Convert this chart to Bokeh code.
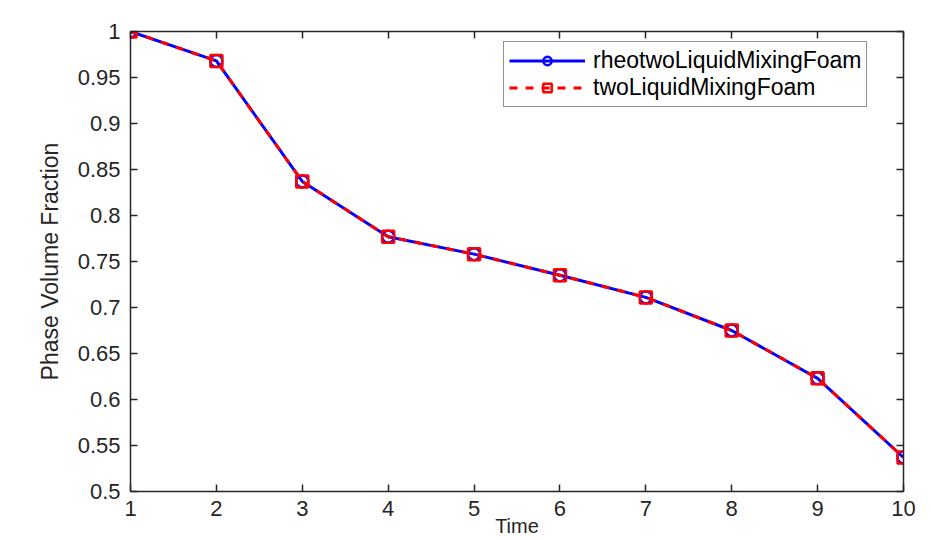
from bokeh.plotting import figure
from bokeh.models import LinearAxis, Range1d, Legend, LegendItem, FixedTicker
from bokeh.embed import file_html
from bokeh.resources import INLINE

time = [1, 2, 3, 4, 5, 6, 7, 8, 9, 10]
rheo = [1.0, 0.968, 0.837, 0.777, 0.758, 0.735, 0.711, 0.675, 0.623, 0.537]
two = [1.0, 0.968, 0.837, 0.777, 0.758, 0.735, 0.711, 0.675, 0.623, 0.537]
yticks = [0.5, 0.55, 0.6, 0.65, 0.7, 0.75, 0.8, 0.85, 0.9, 0.95, 1.0]
ytick_labels = {0.5: "0.5", 0.55: "0.55", 0.6: "0.6", 0.65: "0.65", 0.7: "0.7",
                0.75: "0.75", 0.8: "0.8", 0.85: "0.85", 0.9: "0.9", 0.95: "0.95", 1.0: "1"}

FONT = "Liberation Sans"
AX = "#262626"

p = figure(width=925, height=540, output_backend="svg", toolbar_location=None,
           x_range=Range1d(1, 10), y_range=Range1d(0.5, 1.0),
           min_border_left=130, min_border_right=22, min_border_top=31, min_border_bottom=49)
p.outline_line_color = None
p.grid.visible = False
p.background_fill_color = "white"

for ax in [p.xaxis[0], p.yaxis[0]]:
    ax.axis_line_color = AX
    ax.axis_line_width = 1.5
    ax.major_tick_line_color = AX
    ax.major_tick_line_width = 1.5
    ax.major_tick_in = 7
    ax.major_tick_out = 0
    ax.minor_tick_line_color = None
    ax.major_label_text_font = FONT
    ax.major_label_text_font_size = "22px"
    ax.major_label_text_color = AX
    ax.axis_label_text_font = FONT
    ax.axis_label_text_font_style = "normal"
    ax.axis_label_text_font_size = "23px"
    ax.axis_label_text_color = AX

p.xaxis[0].ticker = FixedTicker(ticks=time)
p.yaxis[0].ticker = FixedTicker(ticks=yticks)
p.yaxis[0].major_label_overrides = ytick_labels
p.yaxis[0].axis_label = "Phase Volume Fraction"
p.yaxis[0].axis_label_standoff = 12
p.yaxis[0].major_label_standoff = 10
p.xaxis[0].major_label_standoff = 9
p.xaxis[0].axis_label = "Time"
p.xaxis[0].axis_label_text_font_size = "20px"
p.xaxis[0].axis_label_standoff = -4

top = LinearAxis(ticker=FixedTicker(ticks=time))
right = LinearAxis(ticker=FixedTicker(ticks=yticks))
for ax in [top, right]:
    ax.axis_line_color = AX
    ax.axis_line_width = 1.5
    ax.major_tick_line_color = AX
    ax.major_tick_line_width = 1.5
    ax.major_tick_in = 7
    ax.major_tick_out = 0
    ax.minor_tick_line_color = None
    ax.major_label_text_font_size = "0px"
    ax.major_label_text_color = None
p.add_layout(top, "above")
p.add_layout(right, "right")

l1 = p.line(time, rheo, line_color="#0000ff", line_width=3)
m1 = p.scatter(time, rheo, marker="circle", size=12, fill_color=None,
               line_color="#0000ff", line_width=2.5)
l2 = p.line(time, two, line_color="#ff0000", line_width=3, line_dash="8 8")
m2 = p.scatter(time, two, marker="square", size=12, fill_color=None,
               line_color="#ff0000", line_width=2.5)

legend = Legend(items=[LegendItem(label="rheotwoLiquidMixingFoam", renderers=[l1, m1]),
                       LegendItem(label="twoLiquidMixingFoam", renderers=[l2, m2])],
                location=(373, 384))
legend.label_text_font = FONT
legend.label_text_font_size = "23px"
legend.label_text_color = "black"
legend.label_standoff = 8
legend.glyph_width = 76
legend.glyph_height = 21
legend.label_height = 21
legend.spacing = 0
legend.padding = 5
legend.margin = 0
legend.border_line_color = AX
legend.border_line_width = 1.5
legend.background_fill_color = "white"
legend.background_fill_alpha = 1
p.add_layout(legend, "center")

open("out.html", "w").write(file_html(p, INLINE))
